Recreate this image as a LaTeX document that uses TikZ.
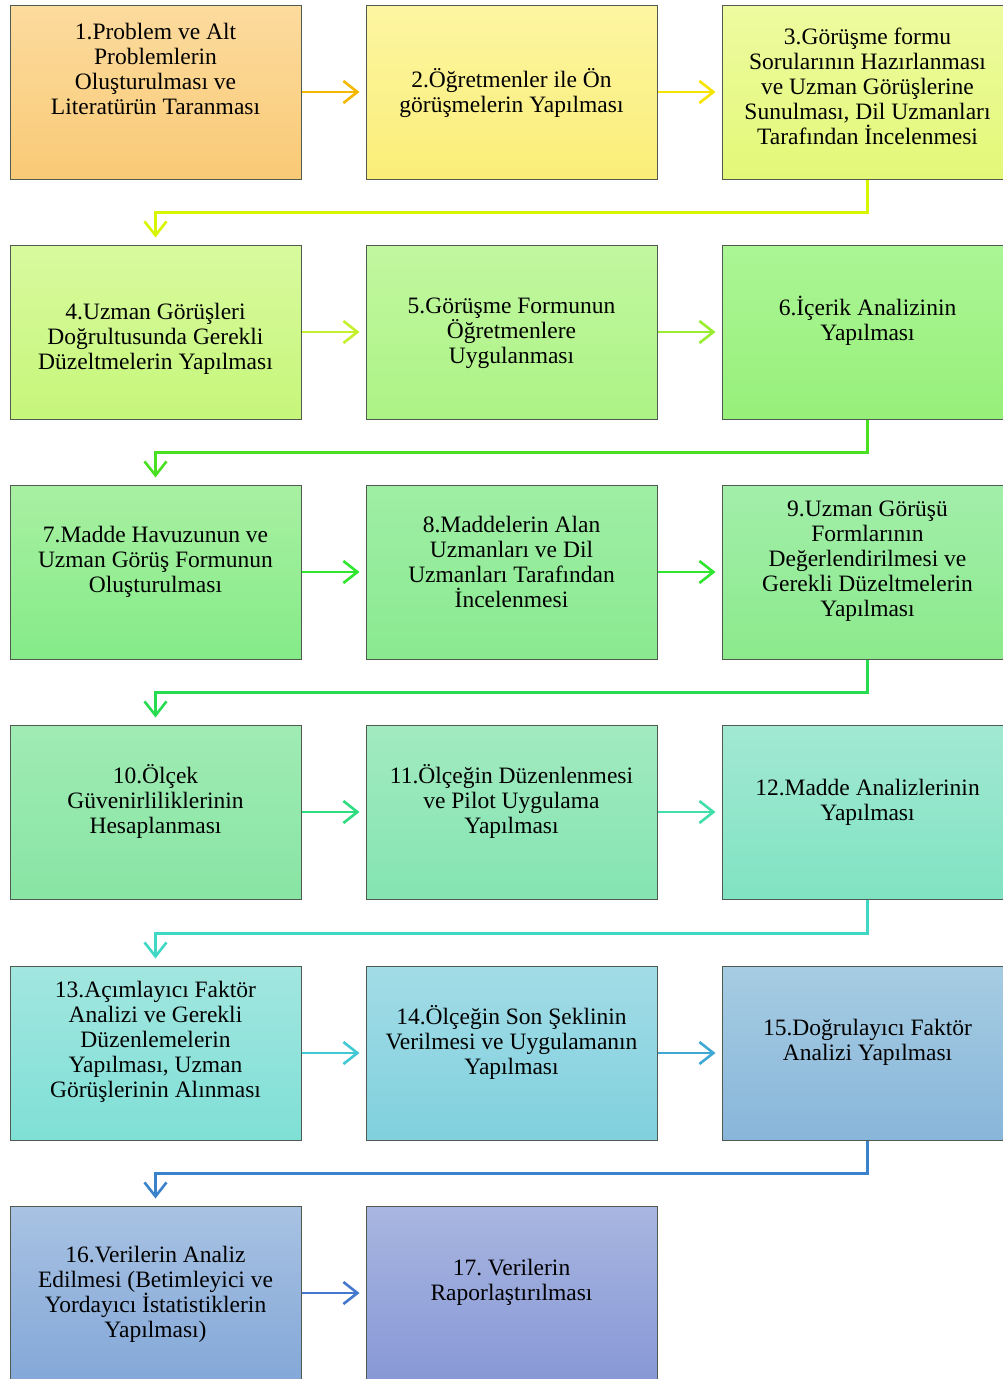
\documentclass[tikz,border=0pt]{standalone}
\usepackage{fontspec}
\setmainfont{Liberation Serif}
\usepackage{tikz}
\usetikzlibrary{arrows.meta, positioning}
\frenchspacing
\definecolor{boxedge}{HTML}{505a50}
\definecolor{topA}{HTML}{FCDB9E}\definecolor{botA}{HTML}{F9CA76}
\definecolor{topB}{HTML}{FDF5A2}\definecolor{botB}{HTML}{FAEE78}
\definecolor{topC}{HTML}{EEFBA0}\definecolor{botC}{HTML}{E3F878}
\definecolor{topD}{HTML}{D8FA9E}\definecolor{botD}{HTML}{C6F67A}
\definecolor{topE}{HTML}{C2F7A0}\definecolor{botE}{HTML}{ACF385}
\definecolor{topF}{HTML}{ABF595}\definecolor{botF}{HTML}{97F07A}
\definecolor{topG}{HTML}{A8F0A2}\definecolor{botG}{HTML}{85EB88}
\definecolor{topH}{HTML}{9FEEA5}\definecolor{botH}{HTML}{8AEA90}
\definecolor{topI}{HTML}{A2EEAA}\definecolor{botI}{HTML}{8CEA8C}
\definecolor{topJ}{HTML}{A0EBB4}\definecolor{botJ}{HTML}{88E5A4}
\definecolor{topK}{HTML}{A2EAC0}\definecolor{botK}{HTML}{84E4B2}
\definecolor{topL}{HTML}{A2E8D2}\definecolor{botL}{HTML}{80E3C2}
\definecolor{topM}{HTML}{A2E6E0}\definecolor{botM}{HTML}{7FE0D6}
\definecolor{topN}{HTML}{A2DCE6}\definecolor{botN}{HTML}{80D0DE}
\definecolor{topO}{HTML}{A6CCE2}\definecolor{botO}{HTML}{88B6DA}
\definecolor{topP}{HTML}{A8C2E2}\definecolor{botP}{HTML}{84A8D8}
\definecolor{topQ}{HTML}{A8B6E0}\definecolor{botQ}{HTML}{8898D6}
\definecolor{arrA}{HTML}{F5B800}
\definecolor{arrB}{HTML}{F5E300}
\definecolor{arrC}{HTML}{D8F500}
\definecolor{arrD}{HTML}{C4F02E}
\definecolor{arrE}{HTML}{9AEC30}
\definecolor{arrF}{HTML}{48E020}
\definecolor{arrG}{HTML}{2EE62E}
\definecolor{arrH}{HTML}{28DC50}
\definecolor{arrI}{HTML}{30DC80}
\definecolor{arrJ}{HTML}{40DEA8}
\definecolor{arrK}{HTML}{40D8C4}
\definecolor{arrL}{HTML}{40C8D4}
\definecolor{arrM}{HTML}{40A8D4}
\definecolor{arrN}{HTML}{3A82CC}
\definecolor{arrO}{HTML}{4478CC}
\tikzset{
	stagebox/.style={draw=boxedge, line width=1pt, minimum width=291pt, minimum height=174pt, inner sep=0pt},
	stagetext/.style={align=center, font=\fontsize{23.5}{25}\selectfont, text=black, inner sep=0pt},
	flow/.style={line width=2.6pt, -{Straight Barb[length=14pt, width=22pt, line width=2.6pt]}, shorten >=6pt},
	turn/.style={flow, rounded corners=0pt, shorten >=7pt}
}
\begin{document}
\begin{tikzpicture}[x=1pt, y=-1pt]
				\useasboundingbox (0,0) rectangle (1003,1379);
				% boxes
				\node[stagebox, top color=topA, bottom color=botA] (s1) at (155.5,92) {};
				\node[stagebox, top color=topB, bottom color=botB] (s2) at (511.5,92) {};
				\node[stagebox, top color=topC, bottom color=botC] (s3) at (867.5,92) {};
				\node[stagebox, top color=topD, bottom color=botD] (s4) at (155.5,332) {};
				\node[stagebox, top color=topE, bottom color=botE] (s5) at (511.5,332) {};
				\node[stagebox, top color=topF, bottom color=botF] (s6) at (867.5,332) {};
				\node[stagebox, top color=topG, bottom color=botG] (s7) at (155.5,572) {};
				\node[stagebox, top color=topH, bottom color=botH] (s8) at (511.5,572) {};
				\node[stagebox, top color=topI, bottom color=botI] (s9) at (867.5,572) {};
				\node[stagebox, top color=topJ, bottom color=botJ] (s10) at (155.5,812) {};
				\node[stagebox, top color=topK, bottom color=botK] (s11) at (511.5,812) {};
				\node[stagebox, top color=topL, bottom color=botL] (s12) at (867.5,812) {};
				\node[stagebox, top color=topM, bottom color=botM] (s13) at (155.5,1053) {};
				\node[stagebox, top color=topN, bottom color=botN] (s14) at (511.5,1053) {};
				\node[stagebox, top color=topO, bottom color=botO] (s15) at (867.5,1053) {};
				\node[stagebox, top color=topP, bottom color=botP] (s16) at (155.5,1293) {};
				\node[stagebox, top color=topQ, bottom color=botQ] (s17) at (511.5,1293) {};
				% texts
				\node[stagetext] (t1) at (155.5,69) {1.Problem ve Alt\\Problemlerin\\Oluşturulması ve\\Literatürün Taranması};
				\node[stagetext] (t2) at (511.5,93) {2.Öğretmenler ile Ön\\görüşmelerin Yapılması};
				\node[stagetext] (t3) at (867.5,86.5) {3.Görüşme formu\\Sorularının Hazırlanması\\ve Uzman Görüşlerine\\Sunulması, Dil Uzmanları\\Tarafından İncelenmesi};
				\node[stagetext] (t4) at (155.5,338.5) {4.Uzman Görüşleri\\Doğrultusunda Gerekli\\Düzeltmelerin Yapılması};
				\node[stagetext] (t5) at (511.5,333.5) {5.Görüşme Formunun\\Öğretmenlere\\Uygulanması};
				\node[stagetext] (t6) at (867.5,321) {6.İçerik Analizinin\\Yapılması};
				\node[stagetext] (t7) at (155.5,561.5) {7.Madde Havuzunun ve\\Uzman Görüş Formunun\\Oluşturulması};
				\node[stagetext] (t8) at (511.5,561.5) {8.Maddelerin Alan\\Uzmanları ve Dil\\Uzmanları Tarafından\\İncelenmesi};
				\node[stagetext] (t9) at (867.5,561.5) {9.Uzman Görüşü\\Formlarının\\Değerlendirilmesi ve\\Gerekli Düzeltmelerin\\Yapılması};
				\node[stagetext] (t10) at (155.5,801.5) {10.Ölçek\\Güvenirliliklerinin\\Hesaplanması};
				\node[stagetext] (t11) at (511.5,801.5) {11.Ölçeğin Düzenlenmesi\\ve Pilot Uygulama\\Yapılması};
				\node[stagetext] (t12) at (867.5,802) {12.Madde Analizlerinin\\Yapılması};
				\node[stagetext] (t13) at (155.5,1042) {13.Açımlayıcı Faktör\\Analizi ve Gerekli\\Düzenlemelerin\\Yapılması, Uzman\\Görüşlerinin Alınması};
				\node[stagetext] (t14) at (511.5,1042.5) {14.Ölçeğin Son Şeklinin\\Verilmesi ve Uygulamanın\\Yapılması};
				\node[stagetext] (t15) at (867.5,1042) {15.Doğrulayıcı Faktör\\Analizi Yapılması};
				\node[stagetext] (t16) at (155.5,1294.5) {16.Verilerin Analiz\\Edilmesi (Betimleyici ve\\Yordayıcı İstatistiklerin\\Yapılması)};
				\node[stagetext] (t17) at (511.5,1282) {17. Verilerin\\Raporlaştırılması};
				% arrows
				\draw[flow, arrA] (s1.east) -- (s2.west);
				\draw[flow, arrB] (s2.east) -- (s3.west);
				\draw[turn, arrC] (s3.south) -- ++(0,33) -| (s4.north);
				\draw[flow, arrD] (s4.east) -- (s5.west);
				\draw[flow, arrE] (s5.east) -- (s6.west);
				\draw[turn, arrF] (s6.south) -- ++(0,33) -| (s7.north);
				\draw[flow, arrG] (s7.east) -- (s8.west);
				\draw[flow, arrG] (s8.east) -- (s9.west);
				\draw[turn, arrH] (s9.south) -- ++(0,33) -| (s10.north);
				\draw[flow, arrI] (s10.east) -- (s11.west);
				\draw[flow, arrJ] (s11.east) -- (s12.west);
				\draw[turn, arrK] (s12.south) -- ++(0,34) -| (s13.north);
				\draw[flow, arrL] (s13.east) -- (s14.west);
				\draw[flow, arrM] (s14.east) -- (s15.west);
				\draw[turn, arrN] (s15.south) -- ++(0,33) -| (s16.north);
				\draw[flow, arrO] (s16.east) -- (s17.west);
			\end{tikzpicture}
\end{document}
